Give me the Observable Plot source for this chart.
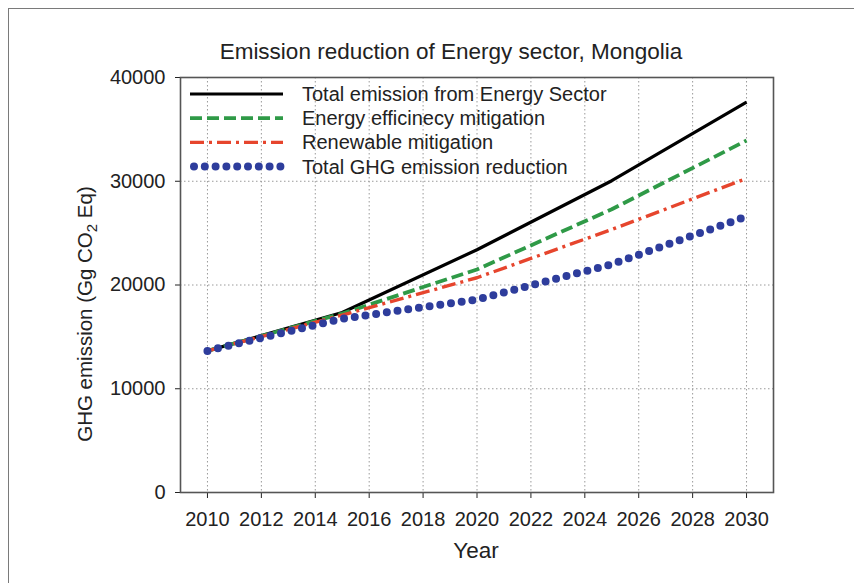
<!DOCTYPE html>
<html>
<head>
<meta charset="utf-8">
<script src="https://cdn.jsdelivr.net/npm/d3@7"></script>
<script src="https://cdn.jsdelivr.net/npm/@observablehq/plot@0.6"></script>
<style>
  html, body { margin: 0; padding: 0; background: #fff; }
  #wrap { position: relative; width: 854px; height: 583px; overflow: hidden; }
  #border { position: absolute; left: 8px; top: 8px; width: 900px; height: 700px; border: 1.5px solid #7a7a7a; box-sizing: border-box; }
  #chart { position: absolute; left: 0; top: 0; }
</style>
</head>
<body>
<div id="wrap"><div id="border"></div><div id="chart"></div></div>
<script>
const years = [2010, 2015, 2020, 2025, 2030];
const totalEnergy = [13650, 17350, 23400, 30050, 37620];
const efficiency = [13650, 17250, 21500, 27300, 33930];
const renewable = [13650, 17100, 20700, 25350, 30270];
const ghgReduction = [13650, 16750, 18600, 22000, 26600];
const seriesNames = ["Total emission from Energy Sector", "Energy efficinecy mitigation", "Renewable mitigation", "Total GHG emission reduction"];
const xTicks = [2010, 2012, 2014, 2016, 2018, 2020, 2022, 2024, 2026, 2028, 2030];
const yTicks = [0, 10000, 20000, 30000, 40000];
const titleText = "Emission reduction of Energy sector, Mongolia";

const styles = [
  {stroke: "#000000", strokeWidth: 3.2, strokeDasharray: null, strokeLinecap: "butt"},
  {stroke: "#2f9a47", strokeWidth: 3.8, strokeDasharray: "12,5", strokeLinecap: "butt"},
  {stroke: "#e6452d", strokeWidth: 3.4, strokeDasharray: "14,5,3,5", strokeLinecap: "butt"},
  {stroke: "#2e3d9c", strokeWidth: 8, strokeDasharray: "0,10.8", strokeLinecap: "round"}
];
const allSeries = [totalEnergy, efficiency, renewable, ghgReduction];
const rows = allSeries.map(vals => years.map((y, i) => ({year: y, value: vals[i]})));

const font = "'Liberation Sans', Arial, sans-serif";
const svg = Plot.plot({
  width: 854, height: 583,
  marginTop: 77, marginBottom: 91, marginLeft: 180, marginRight: 81,
  style: {fontFamily: font, fontSize: "20px", color: "#222", background: "transparent", overflow: "visible"},
  x: {domain: [2009, 2031], ticks: xTicks, tickFormat: d => String(d), tickSize: 6, tickPadding: 13, label: null},
  y: {domain: [0, 40000], ticks: yTicks, tickFormat: d => String(d), tickSize: 5, tickPadding: 10, label: null},
  marks: [
    Plot.gridX(xTicks, {stroke: "#9a9a9a", strokeOpacity: 1, strokeDasharray: "1.5,2.5"}),
    Plot.gridY(yTicks.slice(1, -1), {stroke: "#9a9a9a", strokeOpacity: 1, strokeDasharray: "1.5,2.5"}),
    Plot.frame({stroke: "#555", strokeWidth: 1.6}),
    ...rows.map((r, i) => Plot.line(r, {x: "year", y: "value", ...styles[i]}))
  ]
});

const s = d3.select(svg);
s.append("text").attr("x", 451).attr("y", 59).attr("text-anchor", "middle")
  .attr("font-family", font).attr("font-size", 22.5).attr("fill", "#222").text(titleText);
s.append("text").attr("x", 476).attr("y", 558).attr("text-anchor", "middle")
  .attr("font-family", font).attr("font-size", 22.5).attr("fill", "#222").text("Year");
const yl = s.append("text").attr("transform", "translate(92,314) rotate(-90)").attr("text-anchor", "middle")
  .attr("font-family", font).attr("font-size", 20.5).attr("fill", "#222");
yl.append("tspan").text("GHG emission (Gg CO");
yl.append("tspan").attr("font-size", 15).attr("dy", 5).text("2");
yl.append("tspan").attr("dy", -5).text(" Eq)");

const lg = s.append("g").attr("text-anchor", "start");
seriesNames.forEach((name, i) => {
  const y = 94 + 24.2 * i;
  const st = styles[i];
  const ln = lg.append("line").attr("x1", i === 3 ? 194 : 190).attr("x2", 283).attr("y1", y).attr("y2", y)
    .attr("stroke", st.stroke).attr("stroke-width", st.strokeWidth).attr("stroke-linecap", st.strokeLinecap);
  if (st.strokeDasharray) ln.attr("stroke-dasharray", st.strokeDasharray);
  lg.append("text").attr("x", 302).attr("y", y).attr("dy", "0.35em").attr("text-anchor", "start")
    .attr("font-family", font).attr("font-size", 20).attr("fill", "#222").text(name);
});

document.getElementById("chart").appendChild(svg);
</script>
</body>
</html>
